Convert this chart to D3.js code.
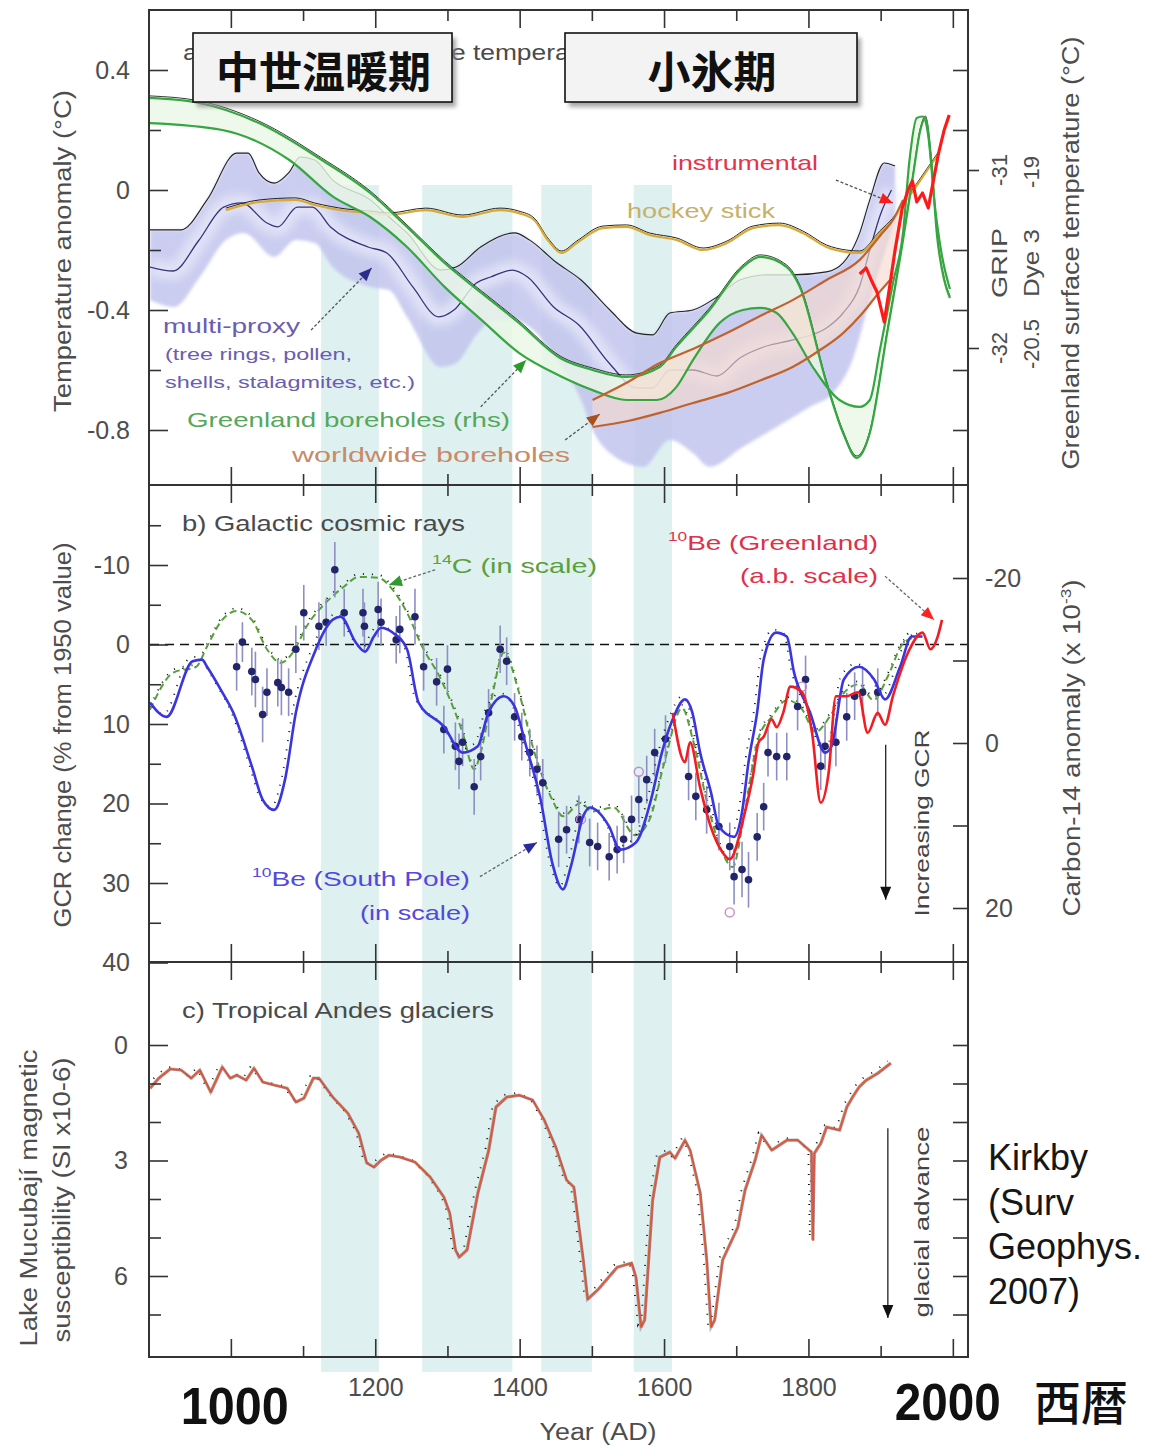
<!DOCTYPE html>
<html>
<head>
<meta charset="utf-8">
<script src="https://cdn.jsdelivr.net/npm/d3@7"></script>
<style>
  body { margin: 0; background: #fff; }
  svg { display: block; }
</style>
</head>
<body>
<svg id="chart" width="1153" height="1447"></svg>
<script>
// ---------- data ----------
const xTickMajor = [1000, 1200, 1400, 1600, 1800, 2000];
const xTickMinor = [1100, 1300, 1500, 1700, 1900];
const xTickLabels = [1200, 1400, 1600, 1800];

// shaded intervals (years AD)
const coldBands = [[1125, 1205], [1265, 1390], [1430, 1500], [1558, 1611]];

// a) temperature anomaly (deg C)
const tempMajor = [0.4, 0, -0.4, -0.8];
const tempMinor = [0.2, -0.2, -0.6];
const multiProxyUpper = [[888,-0.133],[931,-0.133],[967,-0.033],[1008,0.123],[1024,0.123],[1039,0.057],[1060,0.023],[1080,0.057],[1096,0.11],[1116,0.1],[1141,0.033],[1193,-0.033],[1219,-0.09],[1244,-0.143],[1291,-0.267],[1312,-0.257],[1346,-0.19],[1393,-0.143],[1414,-0.167],[1450,-0.24],[1485,-0.3],[1525,-0.4],[1562,-0.477],[1584,-0.483],[1608,-0.41],[1640,-0.4],[1673,-0.357],[1705,-0.3],[1742,-0.283],[1778,-0.283],[1825,-0.273],[1848,-0.243],[1871,-0.143],[1885,-0.033],[1905,0.09],[1920,0.08]];
const multiProxyLower = [[888,-0.367],[921,-0.39],[957,-0.29],[993,-0.167],[1018,-0.143],[1060,-0.223],[1090,-0.167],[1116,-0.177],[1141,-0.257],[1193,-0.323],[1219,-0.333],[1244,-0.423],[1291,-0.59],[1312,-0.577],[1342,-0.477],[1363,-0.433],[1393,-0.433],[1414,-0.457],[1450,-0.56],[1485,-0.7],[1501,-0.8],[1525,-0.877],[1571,-0.923],[1608,-0.833],[1640,-0.877],[1663,-0.923],[1709,-0.857],[1756,-0.79],[1802,-0.723],[1834,-0.677],[1861,-0.567],[1885,-0.367],[1899,-0.257],[1920,-0.1]];
const multiProxyMean = [[888,-0.257],[920,-0.27],[955,-0.17],[990,-0.057],[1015,-0.043],[1050,-0.11],[1065,-0.123],[1092,-0.057],[1113,-0.057],[1138,-0.123],[1190,-0.19],[1216,-0.21],[1252,-0.323],[1288,-0.423],[1309,-0.4],[1340,-0.31],[1360,-0.29],[1390,-0.267],[1411,-0.29],[1447,-0.39],[1482,-0.45],[1525,-0.58],[1562,-0.66],[1584,-0.66],[1608,-0.6],[1640,-0.6],[1673,-0.62],[1705,-0.56],[1742,-0.52],[1778,-0.5],[1825,-0.46],[1848,-0.41],[1871,-0.32],[1885,-0.2],[1900,-0.08],[1915,0.0]];
const hockeyStick = [[993,-0.067],[1039,-0.04],[1090,-0.033],[1116,-0.05],[1160,-0.07],[1193,-0.077],[1219,-0.083],[1270,-0.067],[1321,-0.09],[1373,-0.067],[1399,-0.077],[1420,-0.1],[1440,-0.17],[1458,-0.21],[1479,-0.177],[1515,-0.127],[1548,-0.123],[1580,-0.15],[1618,-0.167],[1654,-0.2],[1687,-0.177],[1723,-0.127],[1760,-0.117],[1792,-0.143],[1825,-0.19],[1853,-0.207],[1871,-0.21],[1899,-0.143],[1917,-0.1],[1940,-0.02],[1960,0.05],[1980,0.12]];
const greenlandBoreA = [[888,0.307],[957,0.29],[1039,0.223],[1126,0.1],[1193,-0.01],[1244,-0.123],[1296,-0.243],[1347,-0.343],[1399,-0.443],[1456,-0.56],[1501,-0.6],[1548,-0.623],[1594,-0.59],[1617,-0.523],[1663,-0.4],[1709,-0.257],[1733,-0.223],[1770,-0.257],[1788,-0.323],[1825,-0.643],[1848,-0.81],[1867,-0.893],[1885,-0.81],[1909,-0.477],[1931,-0.167],[1945,0.05],[1955,0.2],[1962,0.24],[1970,0.1],[1978,-0.15],[1988,-0.3],[1996,-0.36]];
const greenlandBoreB = [[888,0.223],[988,0.2],[1081,0.1],[1142,-0.023],[1193,-0.09],[1244,-0.19],[1296,-0.323],[1347,-0.433],[1399,-0.543],[1456,-0.62],[1501,-0.667],[1548,-0.7],[1590,-0.7],[1617,-0.657],[1640,-0.567],[1677,-0.443],[1709,-0.4],[1733,-0.393],[1756,-0.41],[1778,-0.477],[1806,-0.59],[1843,-0.7],[1871,-0.723],[1885,-0.7],[1899,-0.533],[1917,-0.31],[1931,-0.143],[1940,0.1],[1950,0.24],[1958,0.245],[1966,0.18],[1975,-0.05],[1985,-0.22],[1996,-0.33]];
const worldBoreUpper = [[1501,-0.7],[1550,-0.64],[1594,-0.577],[1640,-0.53],[1687,-0.477],[1733,-0.42],[1778,-0.367],[1825,-0.3],[1871,-0.233],[1900,-0.15],[1917,-0.1],[1931,-0.033]];
const worldBoreLower = [[1501,-0.79],[1550,-0.77],[1594,-0.743],[1640,-0.71],[1687,-0.677],[1733,-0.635],[1778,-0.59],[1812,-0.54],[1848,-0.477],[1875,-0.41],[1895,-0.35],[1917,-0.29]];
const instrumental = [[1871,-0.28],[1880,-0.26],[1887,-0.3],[1895,-0.34],[1905,-0.44],[1912,-0.33],[1920,-0.2],[1930,-0.06],[1938,0.0],[1944,0.03],[1950,-0.04],[1958,-0.01],[1966,-0.06],[1973,0.03],[1980,0.12],[1988,0.2],[1995,0.25]];
const gripTicks = [-31, -32];

// b) galactic cosmic rays (% change from 1950), carbon-14 anomaly
const gcrMajor = [-10, 0, 10, 20, 30, 40];
const gcrMinor = [-15, -5, 5, 15, 25, 35];
const c14Ticks = [-20, -10, 0, 10, 20];
const c14Labels = [-20, 0, 20];
const be10SouthPole = [[888,7.3],[911,9.1],[947,2.1],[960,1.9],[967,2.8],[988,6.0],[1003,8.5],[1029,15.3],[1044,19.5],[1060,20.8],[1075,17.0],[1090,8.6],[1116,1.0],[1141,-3.1],[1152,-3.5],[1173,-0.25],[1186,0.9],[1198,-1.0],[1208,-2.1],[1224,-1.5],[1244,0.6],[1260,7.3],[1295,10.3],[1321,13.6],[1342,12.8],[1357,8.5],[1378,6.5],[1393,7.8],[1409,12.8],[1429,19.5],[1445,27.4],[1460,30.8],[1471,27.9],[1488,21.6],[1497,20.5],[1524,22.9],[1539,25.8],[1561,24.9],[1582,19.5],[1597,13.6],[1612,9.4],[1629,6.9],[1639,8.5],[1650,13.6],[1665,18.6],[1676,22.9],[1697,24.2],[1708,21.1],[1717,14.8],[1729,8.5],[1738,1.9],[1755,-1.5],[1770,-1.0],[1780,3.5],[1802,8.5],[1823,13.6],[1832,12.8],[1849,4.4],[1870,2.8],[1891,4.4],[1906,6.9],[1927,2.8],[1943,-1.0],[1958,-1.0]];
const carbon14 = [[888,8.2],[921,3.5],[952,2.8],[967,0.25],[988,-3.1],[1008,-4.2],[1029,-3.1],[1050,0.6],[1069,2.3],[1086,1.0],[1105,-2.3],[1132,-5.3],[1157,-7.3],[1177,-8.5],[1204,-8.4],[1224,-6.9],[1244,-4.0],[1265,0.25],[1291,4.4],[1321,11.1],[1337,15.7],[1346,13.6],[1363,6.0],[1378,1.0],[1399,6.0],[1418,12.8],[1445,19.5],[1460,21.6],[1485,19.9],[1500,21],[1530,20.5],[1560,24],[1580,22],[1600,15],[1625,8],[1640,12],[1660,20],[1680,26],[1695,28],[1710,22],[1730,12],[1750,9],[1770,7],[1790,8],[1810,11],[1830,9],[1850,6],[1870,5],[1890,7],[1910,4],[1930,0],[1950,-1]];
const be10Greenland = [[1612,8.6],[1629,14.8],[1636,12.3],[1650,18],[1665,23],[1680,26],[1691,27.0],[1712,21.1],[1723,16.6],[1731,12.3],[1738,11.6],[1749,9.4],[1756,10.4],[1765,8.6],[1775,5.3],[1791,6.0],[1805,11.1],[1817,19.9],[1828,16.1],[1838,6.5],[1853,6.5],[1869,6.0],[1882,11.1],[1896,8.6],[1906,10.1],[1917,6.5],[1938,1.0],[1958,-1.5],[1969,0.6],[1979,-1.0],[1985,-3.1]];
// [year, value, half error bar]
const gcrPoints = [[1008,2.8,3],[1016,-0.3,2.5],[1029,3.4,3],[1034,4.4,3.5],[1044,8.8,3.5],[1050,6.0,3],[1065,4.8,3],[1070,5.4,3.5],[1080,6.0,3],[1090,0.6,3],[1101,-4.0,3.5],[1122,-2.3,3],[1132,-2.8,3],[1144,-9.4,3.5],[1157,-4.0,3],[1183,-4.0,3],[1185,-2.3,3],[1204,-4.4,3.5],[1208,-2.8,3],[1229,-0.6,3],[1234,-1.9,3],[1255,-3.5,3.5],[1267,2.8,3],[1285,4.7,3],[1295,10.7,3],[1300,3.1,3],[1311,12.8,3],[1316,14.7,3.5],[1321,12.3,3],[1337,17.9,3.5],[1346,14.1,3],[1357,8.6,3],[1373,0.6,3],[1382,2.1,3],[1393,9.1,3],[1403,11.6,3],[1414,13.6,3],[1424,15.7,3],[1432,17.4,3],[1454,24.5,3.5],[1465,23.3,3],[1482,22.0,3],[1497,24.9,3],[1508,25.4,3],[1524,26.7,3],[1535,25.8,3],[1544,24.5,3],[1555,22.0,3],[1565,19.5,3],[1576,17.0,3],[1587,13.6,3],[1602,11.9,3],[1634,16.6,3],[1644,19.1,3],[1659,20.8,3],[1676,22.9,3],[1691,25.4,3],[1697,29.2,3.5],[1708,28.3,3.5],[1717,29.6,3.5],[1729,24.2,3],[1738,20.4,3],[1744,13.6,3],[1756,14.1,3],[1770,14.1,3],[1785,7.8,3],[1796,4.4,3],[1817,15.3,3],[1823,12.8,3],[1838,12.3,3],[1853,9.1,3],[1864,6.5,3],[1875,6.0,3],[1896,6.0,3]];
const gcrOpenPoints = [[1485,22.0],[1565,16.0],[1691,33.7],[1791,5.3]];

// c) tropical Andes glaciers, magnetic susceptibility
const suscMajor = [0, 3, 6];
const suscMinor = [1, 2, 4, 5, 7];
const suscRight = [0, 1, 2, 3, 4, 5, 6, 7];
const andesSusc = [[888,1.12],[900,0.86],[916,0.62],[931,0.65],[945,0.86],[957,0.65],[972,1.22],[988,0.57],[999,0.86],[1008,0.78],[1021,0.91],[1032,0.6],[1044,0.96],[1060,1.04],[1078,1.12],[1090,1.48],[1101,1.38],[1114,0.86],[1122,0.86],[1141,1.35],[1162,1.77],[1177,2.29],[1188,3.06],[1198,3.17],[1208,2.99],[1219,2.86],[1234,2.91],[1255,3.04],[1276,3.43],[1295,3.95],[1303,4.36],[1311,5.32],[1316,5.51],[1327,5.32],[1342,3.84],[1357,2.73],[1367,1.61],[1382,1.35],[1399,1.3],[1418,1.43],[1434,1.95],[1450,2.65],[1465,3.51],[1475,3.69],[1488,5.58],[1494,6.6],[1508,6.36],[1535,5.77],[1555,5.66],[1561,6.03],[1568,7.32],[1573,7.14],[1584,4.03],[1594,2.91],[1608,2.78],[1615,2.94],[1629,2.47],[1636,2.73],[1650,3.84],[1659,5.58],[1665,7.32],[1670,7.14],[1681,5.58],[1702,4.73],[1712,3.77],[1726,2.99],[1735,2.34],[1749,2.73],[1770,2.47],[1785,2.47],[1804,2.78],[1806,5.06],[1808,2.81],[1817,2.55],[1825,2.13],[1843,2.21],[1853,1.61],[1861,1.35],[1870,1.09],[1880,0.91],[1896,0.73],[1914,0.47]];

const periodLabels = ['中世温暖期', '小氷期'];
const citation = ['Kirkby', '(Surv', 'Geophys.', '2007)'];

// ---------- layout ----------
const X0 = 150, X1 = 968;
const PANEL_A = [10, 485], PANEL_B = [485, 962], PANEL_C = [962, 1357];
const FONT = "'Liberation Sans', Arial, Helvetica, sans-serif";
const CJK = "'Noto Sans CJK JP', 'Noto Sans CJK SC', sans-serif";

const x = d3.scaleLinear().domain([888, 2021]).range([X0, X1]);
const yA = d3.scaleLinear().domain([0.4, -0.8]).range([70, 430]);
const yGrip = d3.scaleLinear().domain([-32, -31]).range([348, 170]);
const yDye = d3.scaleLinear().domain([-20.5, -19]).range([344, 172]);
const yB = d3.scaleLinear().domain([-10, 30]).range([565, 883]);
const yC14 = d3.scaleLinear().domain([-20, 20]).range([578, 908]);
const yC = d3.scaleLinear().domain([0, 6]).range([1045, 1276]);

const svg = d3.select('#chart');
const defs = svg.append('defs');
defs.append('filter').attr('id', 'soft').attr('x', '-5%').attr('y', '-5%').attr('width', '110%').attr('height', '110%')
  .append('feGaussianBlur').attr('stdDeviation', 1.8);
defs.append('filter').attr('id', 'glow').attr('x', '-5%').attr('y', '-10%').attr('width', '110%').attr('height', '120%')
  .append('feGaussianBlur').attr('stdDeviation', 4);
defs.append('filter').attr('id', 'shadow').attr('x', '-10%').attr('y', '-20%').attr('width', '120%').attr('height', '140%')
  .append('feGaussianBlur').attr('stdDeviation', 2.2);
[['a', PANEL_A], ['b', PANEL_B], ['c', PANEL_C]].forEach(([k, p]) => {
  defs.append('clipPath').attr('id', 'clip-' + k).append('rect')
    .attr('x', X0).attr('y', p[0]).attr('width', X1 - X0).attr('height', p[1] - p[0]);
});

// shaded intervals behind all panels
svg.append('g').selectAll('rect').data(coldBands).join('rect')
  .attr('x', d => x(d[0])).attr('width', d => x(d[1]) - x(d[0]))
  .attr('y', 185).attr('height', 1372 - 185)
  .attr('fill', '#def0f0');

// ---------- helpers ----------
function lineGen(ys, curve) {
  return d3.line().x(d => x(d[0])).y(d => ys(d[1])).curve(curve || d3.curveMonotoneX);
}
function bandPath(gen, upper, lower) {
  const a = gen(upper);
  const b = gen(lower.slice().reverse());
  return a + 'L' + b.slice(1) + 'Z';
}
function drawArrow(g, x1, y1, x2, y2, head, shaft, dashed) {
  g.append('line').attr('x1', x1).attr('y1', y1).attr('x2', x2).attr('y2', y2)
    .attr('stroke', shaft).attr('stroke-width', 1.3)
    .attr('stroke-dasharray', dashed ? '3,2' : null);
  const ang = Math.atan2(y2 - y1, x2 - x1), L = 13, w = 5.5;
  const bx = x2 - L * Math.cos(ang), by = y2 - L * Math.sin(ang);
  const pts = [[x2, y2], [bx + w * Math.sin(ang), by - w * Math.cos(ang)], [bx - w * Math.sin(ang), by + w * Math.cos(ang)]];
  g.append('polygon').attr('points', pts.map(p => p.join(',')).join(' ')).attr('fill', head);
}
function styleAxis(sel, size) {
  sel.select('.domain').remove();
  sel.selectAll('line').attr('stroke', '#333').attr('stroke-width', 1.6);
  sel.selectAll('text').attr('font-size', size || 25).attr('fill', '#4d4d4d').attr('font-family', FONT);
}
function yTicks(g, scale, side, vals, len, labels, pad) {
  const ax = (side === 'left' ? d3.axisLeft(scale) : d3.axisRight(scale))
    .tickValues(vals).tickSize(-len).tickPadding(pad || 0)
    .tickFormat(labels ? (d => String(d)) : (() => ''));
  const sel = g.append('g').attr('transform', `translate(${side === 'left' ? X0 : X1},0)`).call(ax);
  styleAxis(sel);
  return sel;
}
function xTicks(g, yPos, edge, vals, len) {
  const ax = (edge === 'top' ? d3.axisTop(x) : d3.axisBottom(x)).tickValues(vals).tickSize(-len).tickFormat(() => '');
  styleAxis(g.append('g').attr('transform', `translate(0,${yPos})`).call(ax));
}
function label(g, o) {
  const t = g.append('text').attr('x', o.x).attr('y', o.y)
    .attr('font-size', o.size || 22).attr('fill', o.fill || '#4d4d4d')
    .attr('font-family', o.family || FONT)
    .attr('font-weight', o.weight || null);
  if (o.len) t.attr('textLength', o.len).attr('lengthAdjust', 'spacingAndGlyphs');
  if (o.anchor) t.attr('text-anchor', o.anchor);
  if (o.rotate) t.attr('transform', `rotate(-90 ${o.x} ${o.y})`).attr('text-anchor', 'middle');
  (o.parts || [{ text: o.text }]).forEach(p => {
    const s = t.append('tspan').text(p.text);
    if (p.sup) s.attr('font-size', (o.size || 22) * 0.62).attr('dy', -9);
    if (p.after) s.attr('dy', 9);
  });
  return t;
}

// ---------- panel a: temperature ----------
const gA = svg.append('g').attr('clip-path', 'url(#clip-a)');
const lA = lineGen(yA);
const lAsharp = lineGen(yA, d3.curveLinear);

// multi-proxy envelope with a paler core along the mean
gA.append('path').attr('d', bandPath(lA, multiProxyUpper, multiProxyLower))
  .attr('fill', '#c2c5ee').attr('filter', 'url(#soft)').attr('opacity', 0.85);
gA.append('path').attr('d', lA(multiProxyMean)).attr('fill', 'none')
  .attr('stroke', '#e6e7f8').attr('stroke-width', 18).attr('opacity', 0.8).attr('filter', 'url(#glow)');
gA.append('path').attr('d', lA(multiProxyMean)).attr('fill', 'none')
  .attr('stroke', '#34347e').attr('stroke-width', 1.3);
gA.append('path').attr('d', lA(multiProxyUpper)).attr('fill', 'none')
  .attr('stroke', '#222').attr('stroke-width', 1.1);

// hockey stick
gA.append('path').attr('d', lA(hockeyStick)).attr('fill', 'none')
  .attr('stroke', '#222').attr('stroke-width', 1).attr('transform', 'translate(0,-2)');
gA.append('path').attr('d', lA(hockeyStick)).attr('fill', 'none')
  .attr('stroke', '#d9a935').attr('stroke-width', 2.2);

// Greenland boreholes
gA.append('path').attr('d', bandPath(lA, greenlandBoreA, greenlandBoreB))
  .attr('fill', '#eaf7e6').attr('opacity', 0.8);
// worldwide boreholes
gA.append('path').attr('d', bandPath(lA, worldBoreUpper, worldBoreLower))
  .attr('fill', '#f6d9cc').attr('opacity', 0.6);
gA.append('path').attr('d', lA(greenlandBoreA)).attr('fill', 'none')
  .attr('stroke', '#222').attr('stroke-width', 0.9).attr('transform', 'translate(0,-2)');
[greenlandBoreA, greenlandBoreB].forEach(s => {
  gA.append('path').attr('d', lA(s)).attr('fill', 'none')
    .attr('stroke', '#35a640').attr('stroke-width', 2.2);
});
[worldBoreUpper, worldBoreLower].forEach(s => {
  gA.append('path').attr('d', lA(s)).attr('fill', 'none')
    .attr('stroke', '#c0622e').attr('stroke-width', 2.2);
});
// instrumental record
gA.append('path').attr('d', lAsharp(instrumental)).attr('fill', 'none')
  .attr('stroke', '#ff1a1a').attr('stroke-width', 3.2).attr('stroke-linejoin', 'round');

// panel a annotations
const annA = svg.append('g');
label(annA, { text: 'a) Northern Hemisphere temperature', x: 183, y: 60, size: 22, len: 432, fill: '#4a4a4a' });
label(annA, { text: 'multi-proxy', x: 163, y: 333, size: 21, len: 137, fill: '#6a5db0' });
label(annA, { text: '(tree rings, pollen,', x: 165, y: 360, size: 17, len: 187, fill: '#6a5db0' });
label(annA, { text: 'shells, stalagmites, etc.)', x: 165, y: 388, size: 17, len: 250, fill: '#6a5db0' });
label(annA, { text: 'Greenland boreholes (rhs)', x: 187, y: 427, size: 21, len: 323, fill: '#55a85a' });
label(annA, { text: 'worldwide boreholes', x: 292, y: 462, size: 21, len: 278, fill: '#c98a66' });
label(annA, { text: 'instrumental', x: 672, y: 170, size: 21, len: 146, fill: '#e8324a' });
label(annA, { text: 'hockey stick', x: 627, y: 218, size: 21, len: 148, fill: '#c6b06a' });
drawArrow(annA, x(1111), yA(-0.467), x(1195), yA(-0.26), '#2c2c8a', '#555', true);
drawArrow(annA, x(1346), yA(-0.723), x(1409), yA(-0.567), '#2b9a2b', '#555', true);
drawArrow(annA, x(1463), yA(-0.833), x(1511), yA(-0.747), '#a8501e', '#555', true);
drawArrow(annA, x(1838), yA(0.033), x(1917), yA(-0.043), '#ff1a1a', '#555', true);

// ---------- panel b: cosmic rays ----------
const gB = svg.append('g').attr('clip-path', 'url(#clip-b)');
const lB = lineGen(yB);
gB.append('line').attr('x1', X0).attr('x2', X1).attr('y1', yB(0)).attr('y2', yB(0))
  .attr('stroke', '#111').attr('stroke-width', 1.6).attr('stroke-dasharray', '9,6');

// carbon-14 (dashed green)
gB.append('path').attr('d', lB(carbon14)).attr('fill', 'none')
  .attr('stroke', '#111').attr('stroke-width', 1.8).attr('stroke-dasharray', '1,8')
  .attr('transform', 'translate(0,-3)');
gB.append('path').attr('d', lB(carbon14)).attr('fill', 'none')
  .attr('stroke', '#57a03a').attr('stroke-width', 2).attr('stroke-dasharray', '7,4');

// individual measurements with error bars
const pts = gB.append('g');
pts.selectAll('line').data(gcrPoints).join('line')
  .attr('x1', d => x(d[0])).attr('x2', d => x(d[0]))
  .attr('y1', d => yB(d[1] - d[2])).attr('y2', d => yB(d[1] + d[2]))
  .attr('stroke', '#8d8fc2').attr('stroke-width', 1.6);
pts.selectAll('circle.pt').data(gcrPoints).join('circle').attr('class', 'pt')
  .attr('cx', d => x(d[0])).attr('cy', d => yB(d[1])).attr('r', 3.8)
  .attr('fill', '#22256a');
pts.selectAll('circle.open').data(gcrOpenPoints).join('circle').attr('class', 'open')
  .attr('cx', d => x(d[0])).attr('cy', d => yB(d[1])).attr('r', 4.5)
  .attr('fill', 'none').attr('stroke', '#c48ac8').attr('stroke-width', 1.4);

// 10Be South Pole (blue) and Greenland (red)
gB.append('path').attr('d', lB(be10SouthPole)).attr('fill', 'none')
  .attr('stroke', '#111').attr('stroke-width', 1.8).attr('stroke-dasharray', '1,8')
  .attr('transform', 'translate(-3,-3)');
gB.append('path').attr('d', lB(be10SouthPole)).attr('fill', 'none')
  .attr('stroke', '#3a35e0').attr('stroke-width', 2.6);
gB.append('path').attr('d', lB(be10Greenland)).attr('fill', 'none')
  .attr('stroke', '#f21c22').attr('stroke-width', 2.6);

const annB = svg.append('g');
label(annB, { text: 'b) Galactic cosmic rays', x: 182, y: 531, size: 22, len: 283, fill: '#4a4a4a' });
label(annB, { parts: [{ text: '14', sup: true }, { text: 'C (in scale)', after: true }], x: 432, y: 573, size: 21, len: 165, fill: '#5aa03c' });
label(annB, { parts: [{ text: '10', sup: true }, { text: 'Be (Greenland)', after: true }], x: 668, y: 550, size: 21, len: 210, fill: '#e0304a' });
label(annB, { text: '(a.b. scale)', x: 740, y: 583, size: 21, len: 138, fill: '#e0304a' });
label(annB, { parts: [{ text: '10', sup: true }, { text: 'Be (South Pole)', after: true }], x: 252, y: 886, size: 21, len: 218, fill: '#5448de' });
label(annB, { text: '(in scale)', x: 360, y: 920, size: 21, len: 110, fill: '#5448de' });
label(annB, { text: 'Increasing GCR', x: 929, y: 823, size: 21, len: 187, rotate: true, fill: '#444' });
drawArrow(annB, x(1283), yB(-9.4), x(1219), yB(-7.5), '#2f9a2f', '#666', true);
drawArrow(annB, x(1906), yB(-8.6), x(1974), yB(-3.1), '#ff2020', '#666', true);
drawArrow(annB, x(1345), yB(29.2), x(1424), yB(24.9), '#2a2aa0', '#666', true);
drawArrow(annB, x(1907), yB(12.6), x(1907), yB(32.1), '#111', '#222', false);

// ---------- panel c: Andes glaciers ----------
const gC = svg.append('g').attr('clip-path', 'url(#clip-c)');
const lC = lineGen(yC, d3.curveLinear);
gC.append('path').attr('d', lC(andesSusc)).attr('fill', 'none')
  .attr('stroke', '#111').attr('stroke-width', 1.8).attr('stroke-dasharray', '1,9')
  .attr('transform', 'translate(-3,-2)');
gC.append('path').attr('d', lC(andesSusc)).attr('fill', 'none')
  .attr('stroke', '#666').attr('stroke-width', 3.2).attr('opacity', 0.45);
gC.append('path').attr('d', lC(andesSusc)).attr('fill', 'none')
  .attr('stroke', '#d65f38').attr('stroke-width', 2).attr('stroke-linejoin', 'round');
gC.append('path').attr('d', lC(andesSusc)).attr('fill', 'none')
  .attr('stroke', '#c8406a').attr('stroke-width', 0.8).attr('opacity', 0.6)
  .attr('transform', 'translate(1,1)');

const annC = svg.append('g');
label(annC, { text: 'c) Tropical Andes glaciers', x: 182, y: 1018, size: 22, len: 312, fill: '#4a4a4a' });
label(annC, { text: 'glacial advance', x: 929, y: 1222, size: 21, len: 191, rotate: true, fill: '#444' });
drawArrow(annC, x(1910), yC(2.16), x(1910), yC(7.09), '#111', '#222', false);

// ---------- frames and ticks ----------
const axes = svg.append('g');
[PANEL_A, PANEL_B, PANEL_C].forEach(p => {
  xTicks(axes, p[0], 'top', xTickMajor, 18);
  xTicks(axes, p[0], 'top', xTickMinor, 11);
  xTicks(axes, p[1], 'bottom', xTickMajor, 18);
  xTicks(axes, p[1], 'bottom', xTickMinor, 11);
});
// year labels
styleAxis(axes.append('g').attr('transform', `translate(0,${PANEL_C[1]})`)
  .call(d3.axisBottom(x).tickValues(xTickLabels).tickSize(0).tickPadding(21).tickFormat(d3.format('d'))));

// left axes
yTicks(axes, yA, 'left', tempMajor, 18, true, 20);
yTicks(axes, yA, 'left', tempMinor, 11, false);
yTicks(axes, yB, 'left', gcrMajor, 18, true, 20);
yTicks(axes, yB, 'left', gcrMinor, 11, false);
yTicks(axes, yC, 'left', suscMajor, 18, true, 22);
yTicks(axes, yC, 'left', suscMinor, 11, false);
// right axes
yTicks(axes, yA, 'right', tempMajor.concat(tempMinor), 15, false);
styleAxis(axes.append('g').attr('transform', `translate(${X1},0)`)
  .call(d3.axisRight(yGrip).tickValues(gripTicks).tickSize(11).tickFormat(() => '')));
yTicks(axes, yC14, 'right', c14Ticks, 15, false);
styleAxis(axes.append('g').attr('transform', `translate(${X1},0)`)
  .call(d3.axisRight(yC14).tickValues(c14Labels).tickSize(0).tickPadding(17).tickFormat(d => String(d))));
yTicks(axes, yC, 'right', suscRight, 15, false);

// panel borders
axes.append('rect').attr('x', X0 - 1).attr('y', PANEL_A[0]).attr('width', X1 - X0 + 1).attr('height', PANEL_C[1] - PANEL_A[0])
  .attr('fill', 'none').attr('stroke', '#333').attr('stroke-width', 2);
[PANEL_B[0], PANEL_C[0]].forEach(yv => {
  axes.append('line').attr('x1', X0 - 1).attr('x2', X1).attr('y1', yv).attr('y2', yv)
    .attr('stroke', '#333').attr('stroke-width', 2);
});

// GRIP / Dye 3 scale labels
const rAx = svg.append('g');
gripTicks.forEach(v => label(rAx, { text: String(v), x: 1007, y: yGrip(v), size: 22, rotate: true }));
label(rAx, { text: 'GRIP', x: 1007, y: 263, size: 22, len: 70, rotate: true });
[-19, -20.5].forEach(v => label(rAx, { text: String(v), x: 1039, y: yDye(v), size: 22, rotate: true }));
label(rAx, { text: 'Dye 3', x: 1039, y: 263, size: 22, len: 68, rotate: true });

// axis titles
label(svg, { text: 'Temperature anomaly (°C)', x: 71, y: 251, size: 23, len: 322, rotate: true });
label(svg, { text: 'Greenland surface temperature (°C)', x: 1079, y: 253, size: 23, len: 433, rotate: true });
label(svg, { text: 'GCR change (% from 1950 value)', x: 71, y: 735, size: 23, len: 385, rotate: true });
label(svg, { parts: [{ text: 'Carbon-14 anomaly (x 10' }, { text: '-3', sup: true }, { text: ')', after: true }], x: 1080, y: 748, size: 23, len: 337, rotate: true });
label(svg, { text: 'Lake Mucubají magnetic', x: 37, y: 1198, size: 23, len: 297, rotate: true });
label(svg, { text: 'susceptibility (SI x10-6)', x: 70, y: 1200, size: 23, len: 285, rotate: true });
label(svg, { text: 'Year (AD)', x: 598, y: 1440, size: 23, len: 117, anchor: 'middle' });

// period boxes
const boxes = [[193, 452], [565, 857]];
const boxG = svg.append('g');
boxes.forEach((b, i) => {
  boxG.append('rect').attr('x', b[0] + 4).attr('y', 38).attr('width', b[1] - b[0]).attr('height', 69)
    .attr('fill', '#8a8a8a').attr('opacity', 0.75).attr('filter', 'url(#shadow)');
  boxG.append('rect').attr('x', b[0]).attr('y', 33).attr('width', b[1] - b[0]).attr('height', 69)
    .attr('fill', '#f3f3f3').attr('stroke', '#111').attr('stroke-width', 1.6);
  boxG.append('text').attr('x', (b[0] + b[1]) / 2 + 1).attr('y', 69)
    .attr('text-anchor', 'middle').attr('dominant-baseline', 'central')
    .attr('font-family', CJK).attr('font-weight', 700).attr('font-size', 43).attr('fill', '#111')
    .text(periodLabels[i]);
});

// large era labels and citation
const big = svg.append('g');
label(big, { text: '1000', x: x(1000) + 4, y: 1424, size: 52, weight: 700, anchor: 'middle', fill: '#111', len: 108 });
label(big, { text: '2000', x: x(2000) - 5, y: 1420, size: 52, weight: 700, anchor: 'middle', fill: '#111', len: 106 });
label(big, { text: '西暦', x: 1034, y: 1420, size: 47, family: CJK, weight: 500, fill: '#111' });
citation.forEach((s, i) => {
  label(big, { text: s, x: 988, y: 1170 + i * 44.5, size: 36, fill: '#161616' });
});
</script>
</body>
</html>
